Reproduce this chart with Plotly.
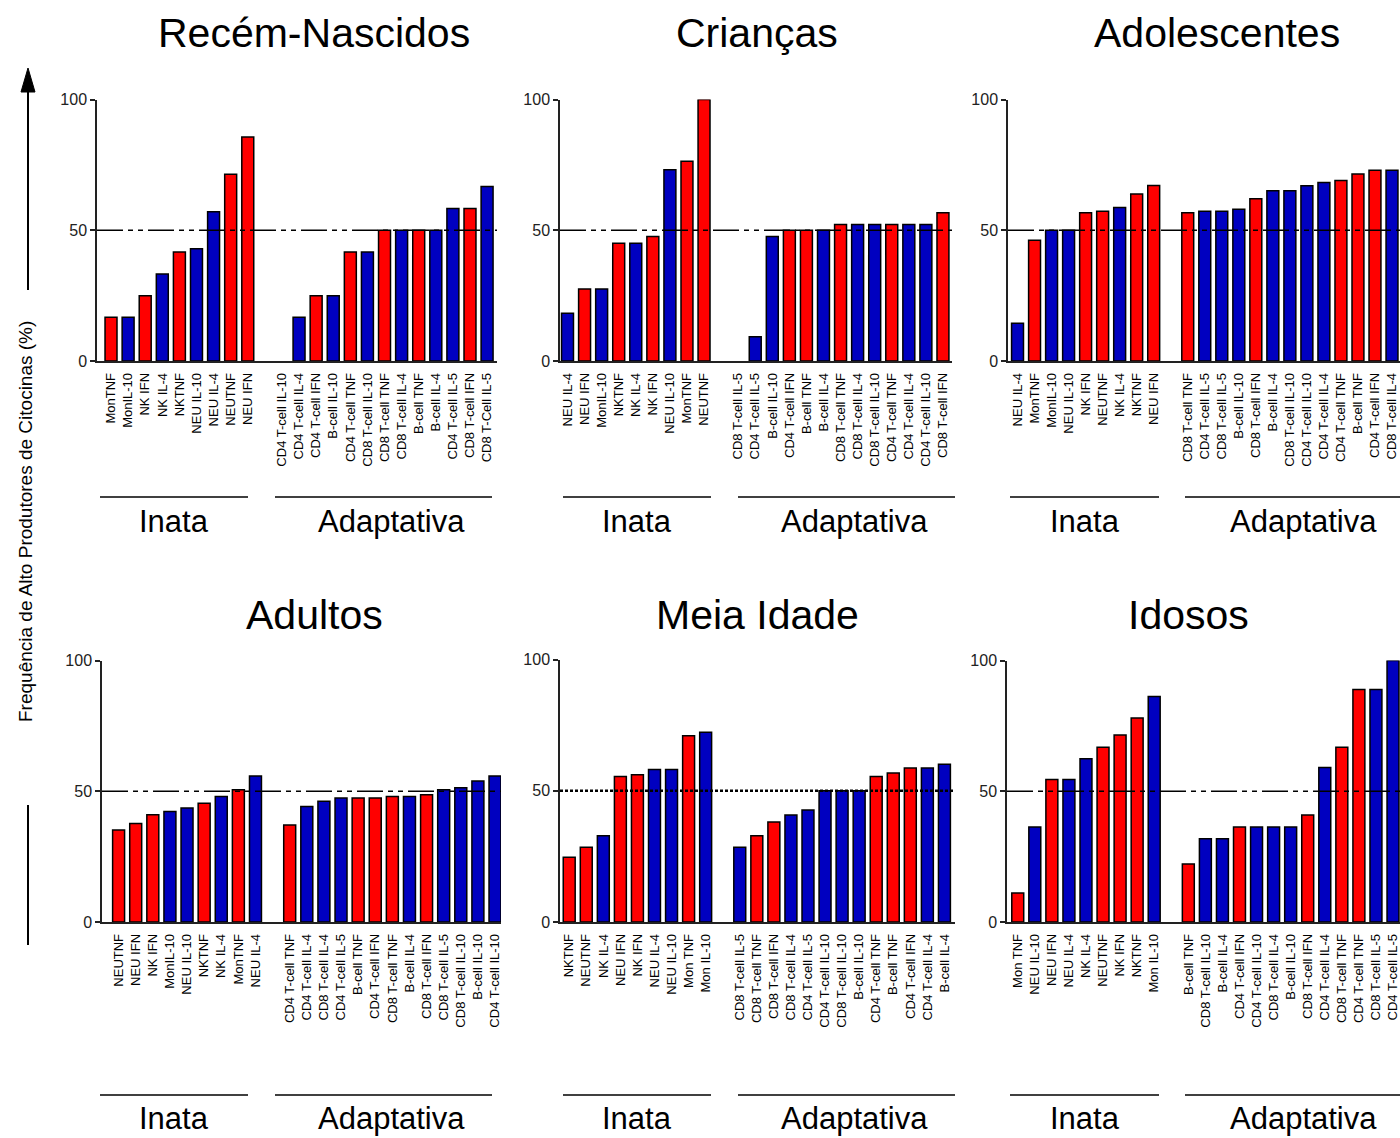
import plotly.graph_objects as go

W, H = 1400, 1138

# ---------------- DATA ----------------
panel_titles = ["Recém-Nascidos", "Crianças", "Adolescentes", "Adultos", "Meia Idade", "Idosos"]
group_names = ["Inata", "Adaptativa"]
y_title = "Frequência de Alto Produtores de Citocinas (%)"
y_ticks = [0, 50, 100]
reference_level = 50

rn_innate_labels = ["MonTNF", "MonIL-10", "NK IFN", "NK IL-4", "NKTNF", "NEU IL-10", "NEU IL-4", "NEUTNF", "NEU IFN"]
rn_innate_values = [16.7, 16.7, 25.0, 33.3, 41.7, 42.9, 57.1, 71.4, 85.7]
rn_adapt_labels = ["CD4 T-cell IL-10", "CD4 T-cell IL-4", "CD4 T-cell IFN", "B-cell IL-10", "CD4 T-cell TNF",
                   "CD8 T-cell IL-10", "CD8 T-cell TNF", "CD8 T-cell IL-4", "B-cell TNF", "B-cell IL-4",
                   "CD4 T-cell IL-5", "CD8 T-cell IFN", "CD8 T-Cell IL-5"]
rn_adapt_values = [0, 16.7, 25.0, 25.0, 41.7, 41.7, 50.0, 50.0, 50.0, 50.0, 58.3, 58.3, 66.7]

cr_innate_labels = ["NEU IL-4", "NEU IFN", "MonIL-10", "NKTNF", "NK IL-4", "NK IFN", "NEU IL-10", "MonTNF", "NEUTNF"]
cr_innate_values = [18.3, 27.5, 27.5, 45.0, 45.0, 47.6, 73.1, 76.4, 100.0]
cr_adapt_labels = ["CD8 T-cell IL-5", "CD4 T-cell IL-5", "B-cell IL-10", "CD4 T-cell IFN", "B-cell TNF",
                   "B-cell IL-4", "CD8 T-cell TNF", "CD8 T-cell IL-4", "CD8 T-cell IL-10", "CD4 T-cell TNF",
                   "CD4 T-cell IL-4", "CD4 T-cell IL-10", "CD8 T-cell IFN"]
cr_adapt_values = [0, 9.3, 47.6, 50.0, 50.0, 50.0, 52.2, 52.2, 52.2, 52.2, 52.2, 52.2, 56.7]

ad_innate_labels = ["NEU IL-4", "MonTNF", "MonIL-10", "NEU IL-10", "NK IFN", "NEUTNF", "NK IL-4", "NKTNF", "NEU IFN"]
ad_innate_values = [14.4, 46.2, 50.0, 50.0, 56.7, 57.3, 58.7, 63.9, 67.1]
ad_adapt_labels = ["CD8 T-cell TNF", "CD4 T-cell IL-5", "CD8 T-cell IL-5", "B-cell IL-10", "CD8 T-cell IFN",
                   "B-cell IL-4", "CD8 T-cell IL-10", "CD4 T-cell IL-10", "CD4 T-cell IL-4", "CD4 T-cell TNF",
                   "B-cell TNF", "CD4 T-cell IFN", "CD8 T-cell IL-4"]
ad_adapt_values = [56.7, 57.3, 57.3, 58.0, 62.0, 65.1, 65.1, 67.0, 68.3, 69.0, 71.5, 72.9, 72.9]

adu_innate_labels = ["NEUTNF", "NEU IFN", "NK IFN", "MonIL-10", "NEU IL-10", "NKTNF", "NK IL-4", "MonTNF", "NEU IL-4"]
adu_innate_values = [35.2, 37.7, 41.0, 42.3, 43.6, 45.4, 48.0, 50.6, 55.8]
adu_adapt_labels = ["CD4 T-cell TNF", "CD4 T-cell IL-4", "CD8 T-cell IL-4", "CD4 T-cell IL-5", "B-cell TNF",
                    "CD4 T-cell IFN", "CD8 T-cell TNF", "B-cell IL-4", "CD8 T-cell IFN", "CD8 T-cell IL-5",
                    "CD8 T-cell IL-10", "B-cell IL-10", "CD4 T-cell IL-10"]
adu_adapt_values = [37.1, 44.2, 46.2, 47.4, 47.4, 47.4, 48.0, 48.0, 48.7, 50.6, 51.3, 53.9, 55.8]

mi_innate_labels = ["NKTNF", "NEUTNF", "NK IL-4", "NEU IFN", "NK IFN", "NEU IL-4", "NEU IL-10", "Mon TNF", "Mon IL-10"]
mi_innate_values = [24.7, 28.5, 32.9, 55.4, 56.1, 58.1, 58.1, 71.0, 72.3]
mi_adapt_labels = ["CD8 T-cell IL-5", "CD8 T-cell TNF", "CD8 T-cell IFN", "CD8 T-cell IL-4", "CD4 T-cell IL-5",
                   "CD4 T-cell IL-10", "CD8 T-cell IL-10", "B-cell IL-10", "CD4 T-cell TNF", "B-cell TNF",
                   "CD4 T-cell IFN", "CD4 T-cell IL-4", "B-cell IL-4"]
mi_adapt_values = [28.5, 32.9, 38.1, 40.8, 42.7, 50.0, 50.0, 50.0, 55.4, 56.8, 58.7, 58.7, 60.1]

id_innate_labels = ["Mon TNF", "NEU IL-10", "NEU IFN", "NEU IL-4", "NK IL-4", "NEUTNF", "NK IFN", "NKTNF", "Mon IL-10"]
id_innate_values = [11.1, 36.3, 54.5, 54.5, 62.4, 66.8, 71.5, 78.0, 86.2]
id_adapt_labels = ["B-cell TNF", "CD8 T-cell IL-10", "B-cell IL-4", "CD4 T-cell IFN", "CD4 T-cell IL-10",
                   "CD8 T-cell IL-4", "B-cell IL-10", "CD8 T-cell IFN", "CD4 T-cell IL-4", "CD8 T-cell TNF",
                   "CD4 T-cell TNF", "CD8 T-cell IL-5", "CD4 T-cell IL-5"]
id_adapt_values = [22.2, 31.8, 31.8, 36.3, 36.3, 36.3, 36.3, 40.9, 59.1, 66.8, 88.9, 88.9, 100.0]

panels_data = [
    (rn_innate_labels, rn_innate_values, rn_adapt_labels, rn_adapt_values),
    (cr_innate_labels, cr_innate_values, cr_adapt_labels, cr_adapt_values),
    (ad_innate_labels, ad_innate_values, ad_adapt_labels, ad_adapt_values),
    (adu_innate_labels, adu_innate_values, adu_adapt_labels, adu_adapt_values),
    (mi_innate_labels, mi_innate_values, mi_adapt_labels, mi_adapt_values),
    (id_innate_labels, id_innate_values, id_adapt_labels, id_adapt_values),
]

# ---------------- STYLE / LAYOUT ----------------
RED = "#FF0000"
BLUE = "#0000C0"
FONT = "Liberation Sans, Arial, sans-serif"

# pixel geometry of each panel: (x_left, x_right, y_top(100), y_bottom(0), slot range)
geom = [
    (97, 497, 99.5, 361, (-0.82, 22.58)),
    (560, 952, 99.5, 361, (-0.44, 22.53)),
    (1008, 1400, 99.5, 361, (-0.56, 22.47)),
    (102, 501, 660.5, 922, (-0.97, 22.35)),
    (560, 955, 659.5, 922, (-0.54, 22.62)),
    (1007, 1400, 660.5, 922, (-0.63, 22.41)),
]
title_pos = [(314, 33), (757, 33), (1217, 33), (314, 615), (757, 615), (1188, 615)]
group_label_pos = [((174, 391), 521), ((637, 854), 521), ((1085, 1303), 521),
                   ((174, 391), 1118), ((637, 854), 1118), ((1085, 1303), 1118)]
group_line_pos = [(((100, 248), (275, 492)), 497), (((563, 711), (738, 955)), 497),
                  (((1010, 1159), (1185, 1400)), 497),
                  (((100, 248), (275, 492)), 1095), (((563, 711), (738, 955)), 1095),
                  (((1010, 1159), (1185, 1400)), 1095)]


def fx(px):
    return px / W


def fy(py):
    return 1 - py / H


fig = go.Figure()
shapes = []
annotations = []

for k, (il, iv, al, av) in enumerate(panels_data):
    suffix = "" if k == 0 else str(k + 1)
    labels = il + al
    values = iv + av
    xs = list(range(len(il))) + [len(il) + 1 + j for j in range(len(al))]
    colors = [RED if ("TNF" in lab or "IFN" in lab) else BLUE for lab in labels]
    outline = [1.5 if v > 0 else 0 for v in values]
    fig.add_trace(go.Bar(
        x=xs, y=values, width=0.7,
        marker=dict(color=colors, line=dict(color="black", width=outline)),
        xaxis="x" + suffix, yaxis="y" + suffix, showlegend=False,
        hovertext=labels,
    ))
    xl, xr, yt, yb, rng = geom[k]
    fig.layout["xaxis" + suffix] = dict(
        domain=[fx(xl), fx(xr)], range=list(rng), anchor="y" + suffix,
        tickmode="array", tickvals=xs, ticktext=labels, tickangle=-90,
        tickfont=dict(family=FONT, size=13, color="black"),
        showline=True, linecolor="#222", linewidth=1.5, ticks="",
        showgrid=False, zeroline=False, fixedrange=True, ticklabelstandoff=5,
        automargin=False, ticklabeloverflow="allow",
    )
    fig.layout["yaxis" + suffix] = dict(
        domain=[fy(yb), fy(yt)], range=[0, 100], anchor="x" + suffix,
        tickmode="array", tickvals=y_ticks, ticks="outside", ticklen=5,
        tickcolor="#222", tickwidth=1.5,
        tickfont=dict(family=FONT, size=16, color="#222"),
        showline=True, linecolor="#222", linewidth=1.5,
        showgrid=False, zeroline=False, fixedrange=True, automargin=False,
    )
    # 50% reference line
    dash = "3px,2px" if k == 4 else "26px,5px,5px,5px,5px,5px"
    lw = 2.5 if k == 4 else 1.5
    shapes.append(dict(type="line", xref=("x" + suffix + " domain"), yref="y" + suffix,
                       x0=0, x1=1, y0=reference_level, y1=reference_level,
                       line=dict(color="black", width=lw, dash=dash), layer="above"))
    # title
    tx, ty = title_pos[k]
    annotations.append(dict(text=panel_titles[k], x=fx(tx), y=fy(ty), xref="paper", yref="paper",
                            showarrow=False, xanchor="center", yanchor="middle",
                            font=dict(family=FONT, size=41, color="black")))
    # group labels + lines
    (gx1, gx2), gy = group_label_pos[k]
    for name, gx in zip(group_names, (gx1, gx2)):
        annotations.append(dict(text=name, x=fx(gx), y=fy(gy), xref="paper", yref="paper",
                                showarrow=False, xanchor="center", yanchor="middle",
                                font=dict(family=FONT, size=31, color="black")))
    (seg1, seg2), ly = group_line_pos[k]
    for s0, s1 in (seg1, seg2):
        shapes.append(dict(type="line", xref="paper", yref="paper", x0=fx(s0), x1=fx(s1),
                           y0=fy(ly), y1=fy(ly), line=dict(color="black", width=1.5)))

# y-axis title with arrow
annotations.append(dict(text=y_title, x=fx(25), y=fy(522), xref="paper", yref="paper",
                        showarrow=False, textangle=-90, xanchor="center", yanchor="middle",
                        font=dict(family=FONT, size=19, color="black")))
shapes.append(dict(type="line", xref="paper", yref="paper", x0=fx(28), x1=fx(28),
                   y0=fy(290), y1=fy(88), line=dict(color="black", width=2)))
shapes.append(dict(type="path", xref="paper", yref="paper",
                   path=f"M {fx(28)},{fy(68)} L {fx(21)},{fy(92)} L {fx(35)},{fy(92)} Z",
                   fillcolor="black", line=dict(color="black", width=1)))
shapes.append(dict(type="line", xref="paper", yref="paper", x0=fx(28), x1=fx(28),
                   y0=fy(805), y1=fy(945), line=dict(color="black", width=2)))

fig.update_layout(
    template="none",
    width=W, height=H, margin=dict(l=0, r=0, t=0, b=0, autoexpand=False),
    paper_bgcolor="white", plot_bgcolor="white",
    shapes=shapes, annotations=annotations, bargap=0.3,
    font=dict(family=FONT, color="black"),
)

fig.write_html("out.html")
